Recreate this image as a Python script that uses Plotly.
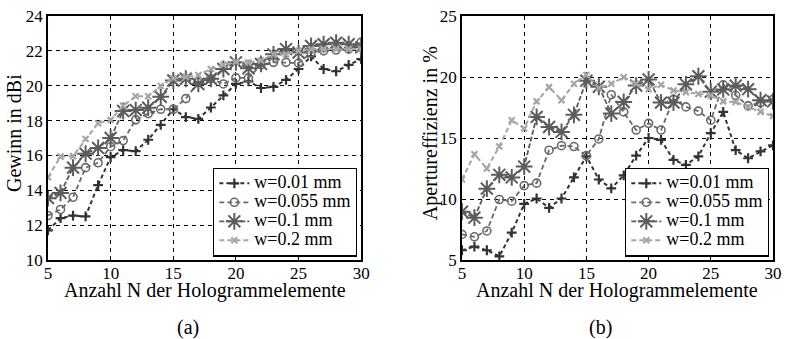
import plotly.graph_objects as go

N = list(range(5, 31))

# Gewinn in dBi (left)
gain_001 = [11.7, 12.4, 12.55, 12.5, 14.3, 15.9, 16.3, 16.25, 16.9, 17.75, 18.65, 18.2, 18.1, 18.75, 19.45,
            20.1, 20.25, 19.87, 19.93, 20.34, 20.96, 21.68, 20.96, 20.83, 21.19, 21.53]
gain_0055 = [12.55, 12.9, 13.6, 15.3, 15.58, 16.5, 16.85, 18.04, 18.4, 18.65, 18.65, 19.26, 20.2, 20.4, 20.1,
             20.45, 20.45, 21.2, 21.34, 21.34, 21.3, 21.9, 22.0, 22.05, 22.1, 22.5]
gain_01 = [13.55, 13.85, 15.3, 16.1, 16.43, 17.0, 18.55, 18.6, 18.74, 19.36, 20.3, 20.4, 20.1, 20.4, 20.96,
           21.34, 21.0, 21.25, 21.8, 22.1, 21.9, 22.28, 22.38, 22.47, 22.38, 22.2]
gain_02 = [14.75, 15.93, 15.96, 16.94, 17.85, 18.04, 18.85, 19.4, 19.4, 19.98, 20.43, 20.5, 20.62, 20.96, 21.2,
           21.38, 21.34, 21.45, 21.8, 21.8, 22.0, 22.1, 22.1, 22.1, 22.1, 22.1]

# Apertureffizienz in % (right)
eff_001 = [5.8, 6.1, 5.8, 5.3, 7.25, 9.6, 10.04, 9.28, 10.04, 11.77, 13.5, 11.6, 10.87, 11.93, 13.56,
           15.0, 14.84, 13.2, 12.8, 13.5, 15.4, 17.14, 14.0, 13.34, 13.9, 14.4]
eff_0055 = [7.1, 6.9, 7.38, 9.96, 9.82, 11.1, 11.3, 14.0, 14.37, 14.3, 13.56, 14.92, 18.55, 17.14, 15.65,
            16.2, 15.65, 18.17, 17.55, 17.2, 16.46, 19.36, 18.5, 17.63, 17.9, 18.17]
eff_01 = [8.96, 8.47, 10.85, 11.98, 11.77, 12.66, 16.73, 15.9, 15.5, 16.9, 19.7, 19.2, 17.0, 17.95, 19.3,
          19.8, 17.9, 17.9, 19.4, 20.06, 18.8, 18.98, 19.3, 19.0, 18.1, 18.0]
eff_02 = [11.6, 13.67, 12.5, 14.3, 16.46, 15.78, 18.0, 19.17, 18.1, 19.44, 20.17, 19.1, 19.44, 19.98, 19.44,
          19.0, 19.36, 18.9, 18.76, 18.6, 18.5, 18.0, 17.95, 17.55, 17.14, 16.8]

labels = ["w=0.01 mm", "w=0.055 mm", "w=0.1 mm", "w=0.2 mm"]
x_ticks = [5, 10, 15, 20, 25, 30]
y1_ticks = [10, 12, 14, 16, 18, 20, 22, 24]
y2_ticks = [5, 10, 15, 20, 25]

FONT = "Liberation Serif"
styles = [
    dict(color="#333333", symbol="cross-thin", size=7, lw=2.2, dash="4px,3px", width=2),
    dict(color="#6a6a6a", symbol="circle-open", size=8, lw=1.6, dash="5px,3px", width=1.8),
    dict(color="#5c5c5c", symbol="asterisk-open", size=14, lw=2.0, dash="5px,2px", width=1.8),
    dict(color="#a6a6a6", symbol="x-thin", size=6, lw=2.2, dash="5px,3px", width=2),
]


def legend_name(s):
    return '<span style="font-size:18px">' + s + '</span>'


fig = go.Figure()
left = [gain_001, gain_0055, gain_01, gain_02]
right = [eff_001, eff_0055, eff_01, eff_02]
for panel, (data, xa, ya, lg) in enumerate([(left, "x", "y", "legend"), (right, "x2", "y2", "legend2")]):
    for i, (ys, st) in enumerate(zip(data, styles)):
        fig.add_trace(go.Scatter(
            x=N, y=ys, mode="lines+markers", name=legend_name(labels[i]), xaxis=xa, yaxis=ya, legend=lg,
            line=dict(color=st["color"], dash=st["dash"], width=st["width"]),
            marker=dict(symbol=st["symbol"], size=st["size"], color=st["color"],
                        line=dict(color=st["color"], width=st["lw"]))))

axis_common = dict(showline=True, linecolor="black", linewidth=1.5, mirror=True,
                   showgrid=True, gridcolor="black", griddash="4px,4px", gridwidth=0.8,
                   zeroline=False, ticks="inside", ticklen=4, tickcolor="black",
                   tickfont=dict(family=FONT, size=17, color="black"))

leg_common = dict(bgcolor="white", bordercolor="black", borderwidth=1.2,
                  font=dict(family=FONT, size=12, color="black"),
                  xanchor="right", yanchor="bottom", tracegroupgap=0, itemwidth=30)

fig.update_layout(
    width=789, height=339,
    margin=dict(l=48, r=7, t=13, b=79),
    paper_bgcolor="white", plot_bgcolor="white",
    font=dict(family=FONT, size=17, color="black"),
    xaxis=dict(domain=[0, 0.432], range=[5, 30], tickvals=x_ticks, ticklabelstandoff=-3, **axis_common),
    yaxis=dict(range=[10, 24], tickvals=y1_ticks, **axis_common),
    xaxis2=dict(domain=[0.571, 1], range=[5, 30], tickvals=x_ticks, anchor="y2", ticklabelstandoff=-3,
                **axis_common),
    yaxis2=dict(range=[5, 25], tickvals=y2_ticks, anchor="x2", **axis_common),
    legend=dict(x=0.4264, y=0.014, **leg_common),
    legend2=dict(x=0.9946, y=0.014, **leg_common),
    showlegend=True,
)

ann = dict(xref="paper", yref="paper", showarrow=False, font=dict(family=FONT, size=20, color="black"))
fig.add_annotation(text="Gewinn in dBi", x=-0.047, y=0.52, textangle=-90, xanchor="center", yanchor="middle", **ann)
fig.add_annotation(text="Apertureffizienz in %", x=0.527, y=0.52, textangle=-90, xanchor="center", yanchor="middle", **ann)
fig.add_annotation(text="Anzahl N der Hologrammelemente", x=0.216, y=-0.124, xanchor="center", yanchor="middle", **ann)
fig.add_annotation(text="Anzahl N der Hologrammelemente", x=0.7855, y=-0.124, xanchor="center", yanchor="middle", **ann)
fig.add_annotation(text="(a)", x=(190 - 48) / 734, y=-0.275, xanchor="center", yanchor="middle", **ann)
fig.add_annotation(text="(b)", x=(607 - 48) / 734, y=-0.275, xanchor="center", yanchor="middle", **ann)

fig.write_html("out.html")
